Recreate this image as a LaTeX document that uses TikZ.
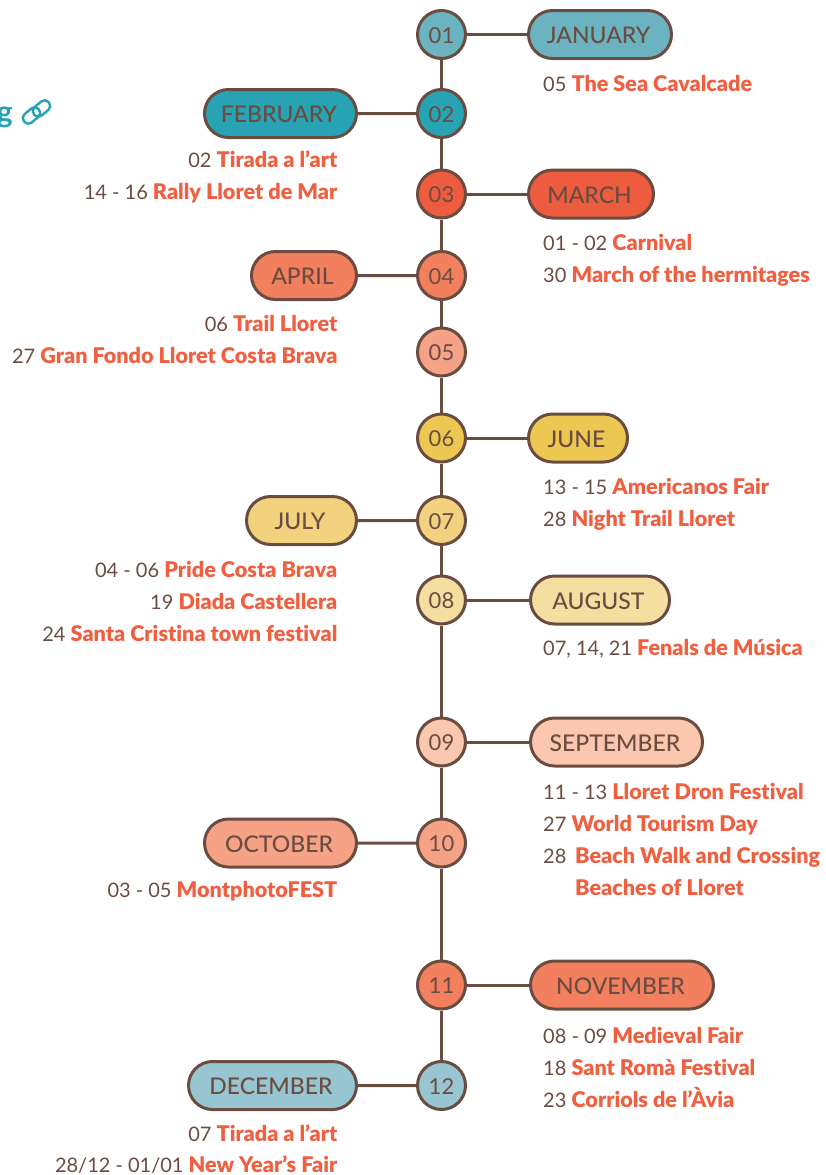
\documentclass[tikz,border=0pt]{standalone}
\usepackage{fontspec}
\setmainfont[Ligatures=NoCommon]{Lato}
\newfontfamily\eventfont[Ligatures=NoCommon]{Lato Black}
\newfontfamily\monthfont[Ligatures=NoCommon]{Lato Medium}
\usetikzlibrary{shapes.misc}
\definecolor{brownline}{HTML}{6B4C41}
\definecolor{eventred}{HTML}{F05F40}
\definecolor{linkteal}{HTML}{27A3B3}
\definecolor{cJan}{HTML}{6BB3C1}
\definecolor{cFeb}{HTML}{27A3B3}
\definecolor{cMar}{HTML}{EE5C3F}
\definecolor{cApr}{HTML}{F27F5E}
\definecolor{cMay}{HTML}{F6A286}
\definecolor{cJun}{HTML}{ECC752}
\definecolor{cJul}{HTML}{F2D27F}
\definecolor{cAug}{HTML}{F5DFA0}
\definecolor{cSep}{HTML}{FBC7AE}
\definecolor{cDec}{HTML}{97C5D1}
\tikzset{
  daydot/.style={circle,draw=brownline,line width=3pt,minimum size=48pt,inner sep=0pt,text=brownline,text height=17pt,text depth=0pt,font=\fontsize{22}{24}\selectfont},
  monthpill/.style={rounded rectangle,draw=brownline,line width=3pt,minimum height=48pt,inner sep=0pt,text=brownline,text height=18.5pt,text depth=0pt,font=\monthfont\fontsize{23}{26}\selectfont,execute at end node={\hspace{3pt}}},
  evleft/.style={anchor=base east,inner sep=0pt,text=brownline,font=\fontsize{20}{24}\selectfont},
  evright/.style={anchor=base west,inner sep=0pt,text=brownline,font=\fontsize{20}{24}\selectfont},
  linkpart/.style={draw=linkteal,line width=2.4pt,rounded corners=5pt},
  joinline/.style={draw=brownline,line width=3pt}
}
\newcommand{\ev}[1]{\textcolor{eventred}{\eventfont\fontsize{21.6}{24}\selectfont #1}}
\begin{document}
\begin{tikzpicture}[x=1pt,y=-1pt]
  \useasboundingbox (0,0) rectangle (825,1175);
  \clip (0,0) rectangle (825,1175);
  % months on the line
  \node[daydot,fill=cJan] (d01) at (441.5,34.5) {01};
  \node[daydot,fill=cFeb] (d02) at (441.5,113.5) {02};
  \node[daydot,fill=cMar] (d03) at (441.5,194) {03};
  \node[daydot,fill=cApr] (d04) at (441.5,275.5) {04};
  \node[daydot,fill=cMay] (d05) at (441.5,352) {05};
  \node[daydot,fill=cJun] (d06) at (441.5,438) {06};
  \node[daydot,fill=cJul] (d07) at (441.5,520.5) {07};
  \node[daydot,fill=cAug] (d08) at (441.5,600) {08};
  \node[daydot,fill=cSep] (d09) at (441.5,742) {09};
  \node[daydot,fill=cMay] (d10) at (441.5,843) {10};
  \node[daydot,fill=cApr] (d11) at (441.5,985) {11};
  \node[daydot,fill=cDec] (d12) at (441.5,1085.5) {12};
  % month names
  \node[monthpill,fill=cJan,minimum width=143pt] (jan) at (600,34.5) {JANUARY};
  \node[monthpill,fill=cFeb,minimum width=152pt] (feb) at (280.5,113.5) {FEBRUARY};
  \node[monthpill,fill=cMar,minimum width=125pt] (mar) at (591,194) {MARCH};
  \node[monthpill,fill=cApr,minimum width=105pt] (apr) at (304,275.5) {APRIL};
  \node[monthpill,fill=cJun,minimum width=99pt] (jun) at (578,438) {JUNE};
  \node[monthpill,fill=cJul,minimum width=110pt] (jul) at (301.5,520.5) {JULY};
  \node[monthpill,fill=cAug,minimum width=139pt] (aug) at (600,600) {AUGUST};
  \node[monthpill,fill=cSep,minimum width=172pt] (sep) at (616.5,742) {SEPTEMBER};
  \node[monthpill,fill=cMay,minimum width=152pt] (oct) at (280.5,843) {OCTOBER};
  \node[monthpill,fill=cApr,minimum width=183pt] (nov) at (622,985) {NOVEMBER};
  \node[monthpill,fill=cDec,minimum width=168pt] (dec) at (272.5,1085.5) {DECEMBER};
  % connectors
  \draw[joinline] (d01) -- (d02);
  \draw[joinline] (d02) -- (d03);
  \draw[joinline] (d03) -- (d04);
  \draw[joinline] (d04) -- (d05);
  \draw[joinline] (d05) -- (d06);
  \draw[joinline] (d06) -- (d07);
  \draw[joinline] (d07) -- (d08);
  \draw[joinline] (d08) -- (d09);
  \draw[joinline] (d09) -- (d10);
  \draw[joinline] (d10) -- (d11);
  \draw[joinline] (d11) -- (d12);
  \draw[joinline] (d01) -- (jan);
  \draw[joinline] (d02) -- (feb);
  \draw[joinline] (d03) -- (mar);
  \draw[joinline] (d04) -- (apr);
  \draw[joinline] (d06) -- (jun);
  \draw[joinline] (d07) -- (jul);
  \draw[joinline] (d08) -- (aug);
  \draw[joinline] (d09) -- (sep);
  \draw[joinline] (d10) -- (oct);
  \draw[joinline] (d11) -- (nov);
  \draw[joinline] (d12) -- (dec);
  % events, right side
  \node[evright] (e01a) at (543,91) {05 \ev{The Sea Cavalcade}};
  \node[evright] (e03a) at (543,250) {01 - 02 \ev{Carnival}};
  \node[evright] (e03b) at (543,282) {30 \ev{March of the hermitages}};
  \node[evright] (e06a) at (543,494) {13 - 15 \ev{Americanos Fair}};
  \node[evright] (e06b) at (543,526) {28 \ev{Night Trail Lloret}};
  \node[evright] (e08a) at (543,655) {07, 14, 21 \ev{Fenals de Música}};
  \node[evright] (e09a) at (543,799) {11 - 13 \ev{Lloret Dron Festival}};
  \node[evright] (e09b) at (543,831) {27 \ev{World Tourism Day}};
  \node[evright] (e09c) at (543,863) {28};
  \node[evright] (e09d) at (575,863) {\ev{Beach Walk and Crossing}};
  \node[evright] (e09e) at (575,895) {\ev{Beaches of Lloret}};
  \node[evright] (e11a) at (543,1043) {08 - 09 \ev{Medieval Fair}};
  \node[evright] (e11b) at (543,1075) {18 \ev{Sant Romà Festival}};
  \node[evright] (e11c) at (543,1107) {23 \ev{Corriols de l’Àvia}};
  % events, left side
  \node[evleft] (e02a) at (337.5,167) {02 \ev{Tirada a l’art}};
  \node[evleft] (e02b) at (337.5,199) {14 - 16 \ev{Rally Lloret de Mar}};
  \node[evleft] (e04a) at (337.5,331) {06 \ev{Trail Lloret}};
  \node[evleft] (e04b) at (337.5,363) {27 \ev{Gran Fondo Lloret Costa Brava}};
  \node[evleft] (e07a) at (337.5,577) {04 - 06 \ev{Pride Costa Brava}};
  \node[evleft] (e07b) at (337.5,609) {19 \ev{Diada Castellera}};
  \node[evleft] (e07c) at (337.5,641) {24 \ev{Santa Cristina town festival}};
  \node[evleft] (e10a) at (337.5,897) {03 - 05 \ev{MontphotoFEST}};
  \node[evleft] (e12a) at (337.5,1141) {07 \ev{Tirada a l’art}};
  \node[evleft] (e12b) at (337.5,1172) {28/12 - 01/01 \ev{New Year’s Fair}};
  % cut-off link at the left edge
  \node[anchor=base east,inner sep=0pt,text=linkteal,font=\fontsize{30}{32}\selectfont\bfseries] (cutg) at (13,122) {g};
  \draw[linkpart,rotate around={40:(31.5,115.5)}] (22,110) rectangle (41,121);
  \draw[linkpart,rotate around={40:(41.5,108.5)}] (32,103) rectangle (51,114);
\end{tikzpicture}
\end{document}
